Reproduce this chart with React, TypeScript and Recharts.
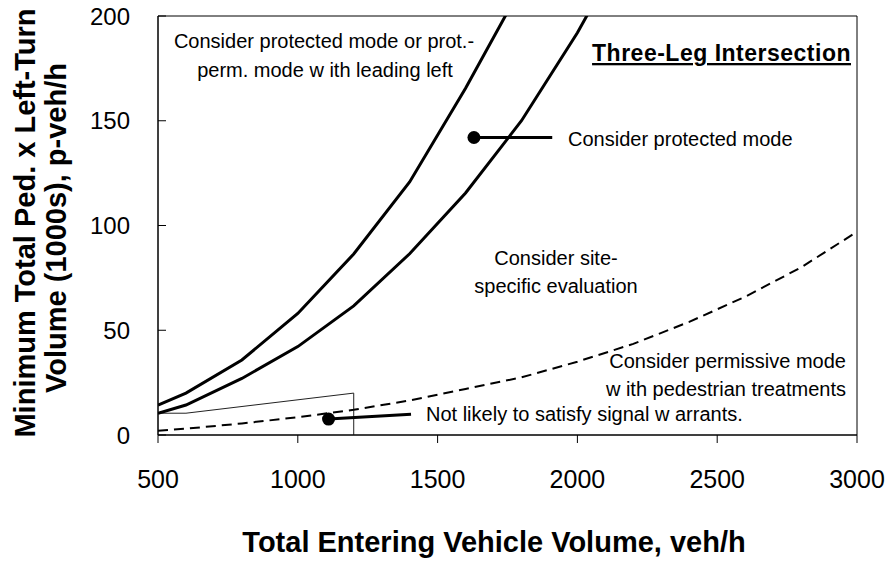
import React from 'react';
import {
  ComposedChart,
  Line,
  XAxis,
  YAxis,
  ReferenceArea,
  Scatter,
  Customized,
} from 'recharts';

// total entering vehicle volume, veh/h
const volumes = [500, 600, 800, 1000, 1200, 1400, 1600, 1800, 2000, 2200, 2400, 2600, 2800, 3000];

// boundary curves, ped x left-turn volume (1000s)
const leadingLeftBoundary = [14.3, 20, 35.8, 58, 86.4, 120.8, 165.5, 214];
const protectedBoundary = [10.4, 14.3, 27, 42.2, 61.6, 86.5, 115.5, 150, 192, 240];
const permissiveBoundary = [2, 3, 5.5, 8.5, 12, 16.5, 22, 27.5, 35, 43.5, 54, 66, 80, 97];

// "not likely to satisfy signal warrants" outline
const notLikelyX = [500, 600, 1200, 1200];
const notLikelyY = [10.4, 10.4, 20, 0];

// leader lines from the labels to their regions
const protectedPointerX = [1630, 1910];
const protectedPointerY = [142, 142];
const notLikelyPointerX = [1110, 1405];
const notLikelyPointerY = [7.6, 9.9];

const xTicks = [500, 1000, 1500, 2000, 2500, 3000];
const yTicks = [0, 50, 100, 150, 200];

const toPoints = (xs: number[], ys: number[]) => ys.map((y, i) => ({ x: xs[i], y }));

const leadingData = toPoints(volumes, leadingLeftBoundary);
const protectedData = toPoints(volumes, protectedBoundary);
const permissiveData = toPoints(volumes, permissiveBoundary);
const notLikelyData = toPoints(notLikelyX, notLikelyY);
const protectedPointer = toPoints(protectedPointerX, protectedPointerY);
const notLikelyPointer = toPoints(notLikelyPointerX, notLikelyPointerY);
const pointerDots = [protectedPointer[0], notLikelyPointer[0]];

const FONT = '"Liberation Sans", Arial, sans-serif';

const YTick = (props: any) => {
  const { x, y, payload } = props;
  const axisX = x + 28;
  return (
    <g>
      <line x1={axisX} x2={axisX + 8} y1={y} y2={y} stroke="#000" />
      <text x={x} y={y} dy="0.36em" textAnchor="end" fontSize={24} fontFamily={FONT} fill="#000">
        {payload.value}
      </text>
    </g>
  );
};

const Annotations = () => {
  const t = { fontFamily: FONT, fontSize: 20, fill: '#000' };
  return (
    <g>
      <text {...t} x={324} y={48} textAnchor="middle">Consider protected mode or prot.-</text>
      <text {...t} x={325} y={77} textAnchor="middle">perm. mode w ith leading left</text>
      <text
        x={851}
        y={61}
        textAnchor="end"
        fontFamily={FONT}
        fontSize={23}
        fontWeight="bold"
        letterSpacing={0.5}
        style={{ textDecoration: 'underline' }}
      >
        Three-Leg Intersection
      </text>
      <text {...t} x={568} y={146}>Consider protected mode</text>
      <text {...t} x={556} y={265} textAnchor="middle">Consider site-</text>
      <text {...t} x={556} y={293} textAnchor="middle">specific evaluation</text>
      <text {...t} x={846} y={368} textAnchor="end">Consider permissive mode</text>
      <text {...t} x={846} y={396} textAnchor="end">w ith pedestrian treatments</text>
      <text {...t} x={426} y={421}>Not likely to satisfy signal w arrants.</text>

      <text
        x={494}
        y={552}
        textAnchor="middle"
        fontFamily={FONT}
        fontSize={29}
        fontWeight="bold"
      >
        Total Entering Vehicle Volume, veh/h
      </text>
      <text
        transform="translate(35,223) rotate(-90)"
        textAnchor="middle"
        fontFamily={FONT}
        fontSize={29}
        fontWeight="bold"
      >
        Minimum Total Ped. x Left-Turn
      </text>
      <text
        transform="translate(66,228) rotate(-90)"
        textAnchor="middle"
        fontFamily={FONT}
        fontSize={29}
        fontWeight="bold"
      >
        Volume (1000s), p-veh/h
      </text>
    </g>
  );
};

export default function App() {
  return (
    <div style={{ position: 'absolute', left: 0, top: 0, background: '#fff' }}>
      <ComposedChart width={891} height={569} margin={{ top: 16, right: 34, left: 0, bottom: 0 }}>
        <XAxis
          type="number"
          dataKey="x"
          domain={[500, 3000]}
          ticks={xTicks}
          allowDataOverflow
          height={134}
          tickSize={8}
          tickMargin={27}
          stroke="#000"
          tick={{ fontSize: 25, fill: '#000', fontFamily: FONT }}
        />
        <YAxis
          type="number"
          dataKey="y"
          domain={[0, 200]}
          ticks={yTicks}
          allowDataOverflow
          width={158}
          tickSize={0}
          tickMargin={28}
          tickLine={false}
          stroke="#000"
          tick={<YTick />}
        />
        <ReferenceArea x1={500} x2={3000} y1={0} y2={200} fill="none" stroke="#000" strokeWidth={1} />

        <Line
          data={notLikelyData}
          dataKey="y"
          type="linear"
          stroke="#222"
          strokeWidth={1}
          dot={false}
          isAnimationActive={false}
        />
        <Line
          data={permissiveData}
          dataKey="y"
          type="linear"
          stroke="#000"
          strokeWidth={2}
          strokeDasharray="10 6"
          dot={false}
          isAnimationActive={false}
        />
        <Line
          data={protectedData}
          dataKey="y"
          type="linear"
          stroke="#000"
          strokeWidth={3}
          dot={false}
          isAnimationActive={false}
        />
        <Line
          data={leadingData}
          dataKey="y"
          type="linear"
          stroke="#000"
          strokeWidth={3}
          dot={false}
          isAnimationActive={false}
        />
        <Line
          data={protectedPointer}
          dataKey="y"
          type="linear"
          stroke="#000"
          strokeWidth={3}
          dot={false}
          isAnimationActive={false}
        />
        <Line
          data={notLikelyPointer}
          dataKey="y"
          type="linear"
          stroke="#000"
          strokeWidth={3}
          dot={false}
          isAnimationActive={false}
        />
        <Scatter
          data={pointerDots}
          dataKey="y"
          fill="#000"
          isAnimationActive={false}
          shape={(p: any) => <circle cx={p.cx} cy={p.cy} r={6.5} fill="#000" />}
        />
        <Customized component={Annotations} />
      </ComposedChart>
    </div>
  );
}
